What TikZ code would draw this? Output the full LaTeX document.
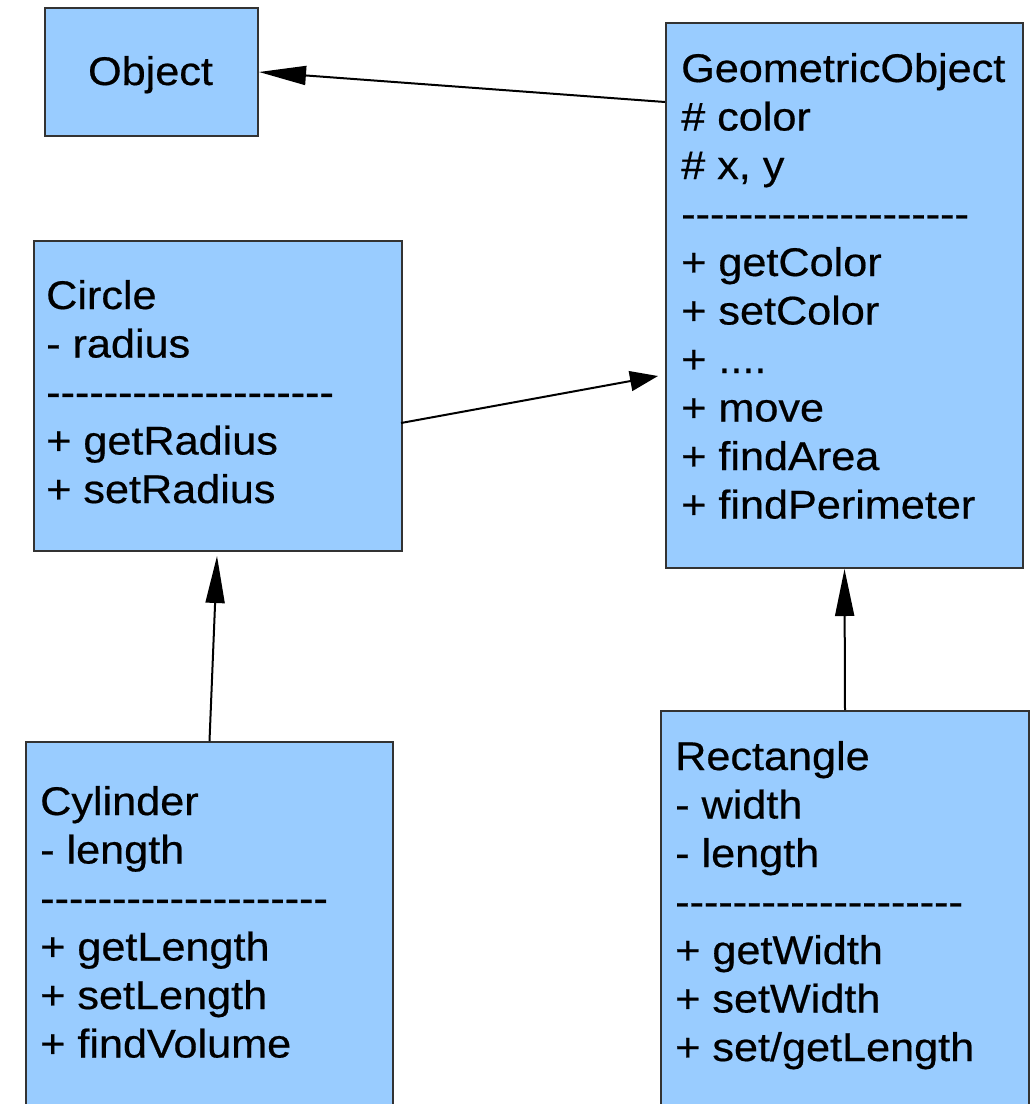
\documentclass[tikz,border=0pt]{standalone}
\usepackage{fontspec}
\setmainfont{Liberation Sans}[FakeStretch=1.08,FakeBold=0.5]
\usetikzlibrary{arrows.meta}
\definecolor{classfill}{HTML}{99CCFF}
\definecolor{classedge}{HTML}{333333}
% a row of plain hyphens, kept apart so no dash ligature forms
\newcommand\hy{-\kern0pt}
\newcommand\hyfive{\hy\hy\hy\hy\hy}
\newcommand\sepline{\hyfive\hyfive\hyfive\hyfive}
% member list: first row sits on the node's base line
\newcommand\members[1]{\begin{tabular}[t]{@{}l@{}}#1\end{tabular}}
\begin{document}
\begin{tikzpicture}[x=1pt,y=-1pt,
  classbox/.style={draw=classedge, line width=2pt, fill=classfill,
    inner sep=0pt, anchor=north west},
  classtext/.style={inner sep=0pt, anchor=base west,
    font=\fontsize{40}{48.5}\selectfont},
  inherit/.style={draw=black, line width=2pt,
    -{Triangle[length=47pt,width=19pt]}},
  assoc/.style={draw=black, line width=2pt,
    -{Triangle[length=28pt,width=20pt]}},
]
\useasboundingbox (0,0) rectangle (1033,1104);

% class boxes
\node[classbox, minimum width=213pt, minimum height=128pt] (obj) at (44,7) {};
\node[classbox, minimum width=357pt, minimum height=545pt] (geo) at (665,22) {};
\node[classbox, minimum width=368pt, minimum height=310pt] (circ) at (33,240) {};
\node[classbox, minimum width=367pt, minimum height=400pt] (cyl) at (25,741) {};
\node[classbox, minimum width=368pt, minimum height=420pt] (rect) at (660,710) {};

% class texts
\node[classtext, anchor=base] (objtext) at (150.5,85) {Object};
\node[classtext] (geotext) at (681,82) {\members{GeometricObject\\ \# color\\ \# x, y\\ \sepline\\ + getColor\\ + setColor\\ + ....\\ + move\\ + findArea\\ + findPerimeter}};
\node[classtext] (circtext) at (46,309) {\members{Circle\\ - radius\\ \sepline\\ + getRadius\\ + setRadius}};
\node[classtext] (cyltext) at (40,815) {\members{Cylinder\\ - length\\ \sepline\\ + getLength\\ + setLength\\ + findVolume}};
\node[classtext] (recttext) at (675,770) {\members{Rectangle\\ - width\\ - length\\ \sepline\\ + getWidth\\ + setWidth\\ + set/getLength}};

% free ends of the connectors
\coordinate (geoside) at (665,102);
\coordinate (circside) at (401,423);
\coordinate (geotip) at (658,376);
\coordinate (circtip) at (217,556);

% connectors
\draw[inherit] (geoside) -- (obj.east);
\draw[assoc] (circside) -- (geotip);
\draw[inherit] (cyl.north) -- (circtip);
\draw[inherit] (rect.north) -- (geo.south);
\end{tikzpicture}
\end{document}
